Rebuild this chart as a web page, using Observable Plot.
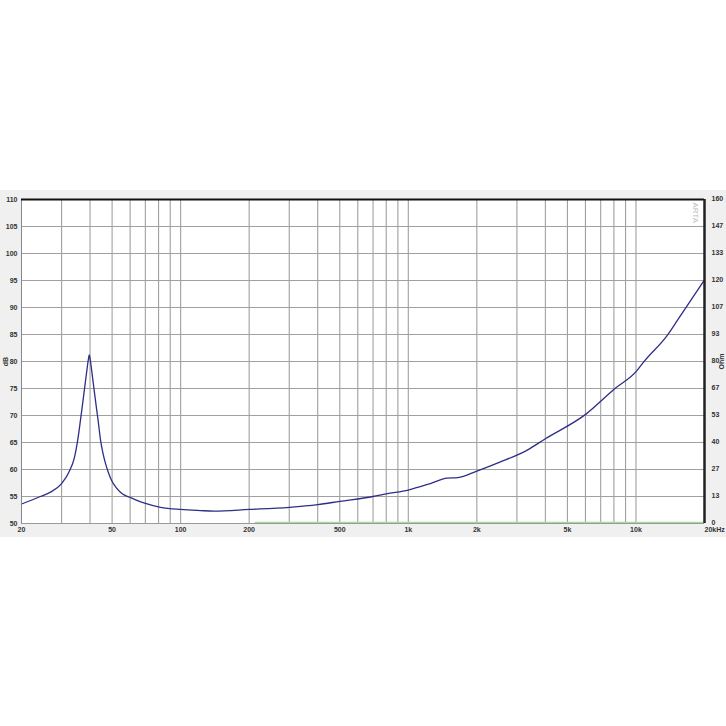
<!DOCTYPE html>
<html><head><meta charset="utf-8">
<script src="https://cdn.jsdelivr.net/npm/d3@7"></script>
<script src="https://cdn.jsdelivr.net/npm/@observablehq/plot@0.6"></script>
<style>
body{margin:0;background:#fff;}
#wrap{position:relative;width:726px;height:726px;overflow:hidden;}
#band{position:absolute;left:0;top:190px;width:726px;height:347px;background:#f0f0f0;}
#chart{position:absolute;left:0;top:0;}
</style></head><body><div id="wrap"><div id="band"></div><div id="chart"></div></div>
<script>
const freqHz = [20,24.2,26.8,30,32.3,34.2,35.3,36.3,36.8,37.9,38.8,39.3,39.7,40.1,40.6,41.55,42.8,43.4,44.5,45.6,46.8,48.2,49.7,52,54.4,57,60.2,68.9,81.6,100,122,140,200,300,400,500,700,800,1000,1250,1480,1650,2000,2540,3330,4000,6050,8040,10100,10800,13700,15200,20000];
const impedanceDb = [53.6,55,55.8,57.4,59.5,62.3,65.4,69.1,71.0,75.2,78.6,80.3,81.2,80.3,78.6,75.2,71.0,69.1,65.4,63.0,61.1,59.4,58,56.7,55.8,55.2,54.8,53.8,53.0,52.6,52.4,52.3,52.6,53.0,53.5,54.1,55.0,55.5,56.2,57.4,58.4,58.5,59.7,61.4,63.6,65.7,70.3,74.9,78.3,79.9,84.8,87.6,95.1];
const greenFreq = [213, 20000];
const greenDb = [50.2, 50.2];
const xTicks = [20,50,100,200,500,1000,2000,5000,10000,20000];
const xTickLabels = ["20","50","100","200","500","1k","2k","5k","10k","20kHz"];
const xGrid = [30,40,50,60,70,80,90,100,200,300,400,500,600,700,800,900,1000,2000,3000,4000,5000,6000,7000,8000,9000,10000];
const dbTicks = [50,55,60,65,70,75,80,85,90,95,100,105,110];
const ohmLabels = ["0","13","27","40","53","67","80","93","107","120","133","147","160"];

const curve = freqHz.map((f,i)=>({f, v: impedanceDb[i]}));
const green = greenFreq.map((f,i)=>({f, v: greenDb[i]}));
const xLab = xTicks.map((f,i)=>({f, t: xTickLabels[i], last: i === xTicks.length-1}));
const grid = "#a0a0a0";

const plot = Plot.plot({
  width: 726, height: 726,
  marginTop: 199, marginBottom: 203, marginLeft: 21, marginRight: 22,
  style: {background: "transparent", fontFamily: "'Liberation Sans', Arial, sans-serif", fontSize: "7px", color: "#333"},
  x: {type: "log", domain: [20, 20000], axis: null},
  y: {domain: [50, 110]},
  marks: [
    Plot.frame({fill: "white", stroke: "none"}),
    Plot.ruleX(xGrid, {stroke: grid, strokeWidth: 1.1}),
    Plot.ruleY(dbTicks, {stroke: grid, strokeWidth: 1.1}),
    Plot.line(green, {x: "f", y: "v", stroke: "#a3dca3", strokeWidth: 1.5}),
    Plot.line(curve, {x: "f", y: "v", stroke: "#2e2e86", strokeWidth: 1.3, curve: "monotone-x"}),
    Plot.text(xLab.filter(d => !d.last), {x: "f", text: "t", frameAnchor: "bottom", dy: 8, fill: "#333", fontWeight: "bold"}),
    Plot.text(xLab.filter(d => d.last), {x: "f", text: "t", frameAnchor: "bottom", dy: 8, textAnchor: "start", fill: "#333", fontWeight: "bold"}),
    Plot.axisY({ticks: dbTicks, tickFormat: d => String(d), tickSize: 0, tickPadding: 4, label: "dB", labelAnchor: "center", labelArrow: "none", labelOffset: 18, fontWeight: "bold"}),
    Plot.axisY({anchor: "right", ticks: dbTicks, tickFormat: d => ohmLabels[dbTicks.indexOf(d)], tickSize: 0, tickPadding: 7, label: "Ohm", labelAnchor: "center", labelArrow: "none", labelOffset: 19, fontWeight: "bold", dy: -1}),
    Plot.ruleX([20], {stroke: "#888", strokeWidth: 1}),
    Plot.ruleY([50], {stroke: "#999", strokeWidth: 1}),
    Plot.ruleY([110], {stroke: "#111", strokeWidth: 2}),
    Plot.ruleX([20000], {stroke: "#222", strokeWidth: 2.5}),
    Plot.text(["ARTA"], {x: 20000, y: 110, dx: -9, dy: 3, rotate: 90, textAnchor: "start", fill: "#bbb", fontSize: 8})
  ]
});
document.getElementById("chart").appendChild(plot);
</script></body></html>
